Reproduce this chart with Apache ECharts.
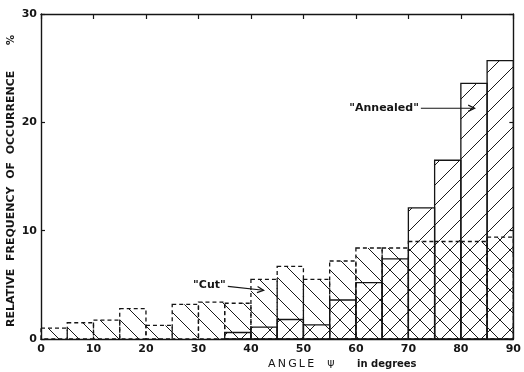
<!DOCTYPE html>
<html><head><meta charset="utf-8">
<script src="https://cdn.jsdelivr.net/npm/echarts@6/dist/echarts.min.js"></script>
<style>html,body{margin:0;padding:0;background:#fff}#c{width:524px;height:372px}</style>
</head><body><div id="c"></div>
<script>
// bin start angles (degrees), each bin 5 degrees wide
const binStart = [0,5,10,15,20,25,30,35,40,45,50,55,60,65,70,75,80,85];
const binWidth = 5;
// relative frequency of occurrence (%)
const cutValues      = [1.0,1.5,1.75,2.8,1.25,3.2,3.4,3.3,5.5,6.7,5.5,7.2,8.4,8.4,9.0,9.0,9.0,9.4];
const annealedValues = [0,0,0,0,0,0,0,0.6,1.1,1.8,1.3,3.6,5.2,7.4,12.1,16.5,23.6,25.7];
const xTicks = [0,10,20,30,40,50,60,70,80,90];
const yTicks = [0,10,20,30];

const INK = '#151515';
const FONT = 'DejaVu Sans';

function hatch(dir) {
  const s = 20, c = document.createElement('canvas');
  c.width = s; c.height = s;
  const g = c.getContext('2d');
  g.strokeStyle = '#1a1a1a'; g.lineWidth = 1;
  g.beginPath();
  if (dir === '/') {
    g.moveTo(-2, s+2); g.lineTo(s+2, -2);
    g.moveTo(-12, 12); g.lineTo(12, -12);
    g.moveTo(s-12, s+12); g.lineTo(s+12, s-12);
  } else {
    g.moveTo(-2, -2); g.lineTo(s+2, s+2);
    g.moveTo(-12, s-12); g.lineTo(12, s+12);
    g.moveTo(s-12, -12); g.lineTo(s+12, 12);
  }
  g.stroke();
  return {image: c, repeat: 'repeat'};
}
const patBack = hatch('\\');
const patFwd = hatch('/');

function render(pattern, dash) {
  return function (params, api) {
    const x0 = api.value(0), x1 = api.value(1), v = api.value(2);
    if (!v) return null;
    const p0 = api.coord([x0, v]);
    const p1 = api.coord([x1, 0]);
    return {
      type: 'rect',
      shape: {x: p0[0], y: p0[1], width: p1[0]-p0[0], height: p1[1]-p0[1]},
      style: {fill: pattern, stroke: INK, lineWidth: 1.3, lineDash: dash}
    };
  };
}
const cutData = binStart.map((s,i)=>[s, s+binWidth, cutValues[i]]);
const annData = binStart.map((s,i)=>[s, s+binWidth, annealedValues[i]]);

const chart = echarts.init(document.getElementById('c'), null, {renderer:'canvas'});
const axisLine = {show:true, onZero:false, lineStyle:{color:INK, width:1.4}};
const labelStyle = {color:INK, fontFamily:FONT, fontSize:11, fontWeight:'bold'};
chart.setOption({
  animation:false,
  backgroundColor:'#fff',
  grid:{left:41, right:3, top:14, bottom:33},
  xAxis:[
    {type:'value', min:xTicks[0], max:xTicks[xTicks.length-1], interval:10, position:'bottom',
     axisLine:axisLine, axisTick:{show:false}, splitLine:{show:false},
     axisLabel:Object.assign({margin:5}, labelStyle)},
    {type:'value', min:xTicks[0], max:xTicks[xTicks.length-1], interval:10, position:'top',
     axisLine:axisLine, axisTick:{show:true, inside:true, length:5, lineStyle:{color:INK,width:1.2}},
     splitLine:{show:false}, axisLabel:{show:false}}
  ],
  yAxis:[
    {type:'value', min:yTicks[0], max:yTicks[yTicks.length-1], interval:10, position:'left',
     axisLine:axisLine, axisTick:{show:true, inside:true, length:4, lineStyle:{color:INK,width:1.2}},
     splitLine:{show:false}, axisLabel:Object.assign({margin:4}, labelStyle)},
    {type:'value', min:yTicks[0], max:yTicks[yTicks.length-1], interval:10, position:'right',
     axisLine:axisLine, axisTick:{show:true, inside:true, length:4, lineStyle:{color:INK,width:1.2}},
     splitLine:{show:false}, axisLabel:{show:false}}
  ],
  series:[
    {type:'custom', name:'Cut', renderItem:render(patBack, [4,3]), data:cutData, encode:{x:[0,1], y:2}, z:2},
    {type:'custom', name:'Annealed', renderItem:render(patFwd, null), data:annData, encode:{x:[0,1], y:2}, z:3}
  ]
});

function px(x, y){ return chart.convertToPixel({gridIndex:0}, [x, y]); }
const aText = px(72, 21.3), aEnd = px(82.6, 21.3);
const cText = px(35.2, 5.0), cStart = px(35.6, 4.85), cEnd = px(42.4, 4.5);
function arrow(a, b) {
  const ang = Math.atan2(b[1]-a[1], b[0]-a[0]), L = 7, w = 0.45;
  return [
    {type:'line', shape:{x1:a[0], y1:a[1], x2:b[0], y2:b[1]}, style:{stroke:INK, lineWidth:1.2}, z:10},
    {type:'polyline', shape:{points:[
      [b[0]-L*Math.cos(ang-w), b[1]-L*Math.sin(ang-w)], b,
      [b[0]-L*Math.cos(ang+w), b[1]-L*Math.sin(ang+w)]]}, style:{stroke:INK, lineWidth:1.3, fill:null}, z:10}
  ];
}
const tStyle = (t, size, extra) => Object.assign({text:t, fill:INK, font:'bold '+size+'px "'+FONT+'"'}, extra||{});
chart.setOption({graphic:[].concat(
  [{type:'text', x:aText[0], y:aText[1], style:tStyle('"Annealed"', 11, {textAlign:'right', textVerticalAlign:'middle'}), z:10}],
  arrow([aText[0]+2, aText[1]], aEnd),
  [{type:'text', x:cText[0], y:cText[1], style:tStyle('"Cut"', 11, {textAlign:'right', textVerticalAlign:'middle'}), z:10}],
  arrow(cStart, cEnd),
  [
    {type:'text', x:268, y:364, style:{text:'A\u2009N\u2009G\u2009L\u2009E', fill:INK, font:'11px "'+FONT+'"', textAlign:'left', textVerticalAlign:'middle'}},
    {type:'text', x:331, y:363, style:{text:'ψ', fill:INK, font:'11px "'+FONT+'"', textAlign:'center', textVerticalAlign:'middle'}},
    {type:'text', x:357, y:364, style:{text:'in degrees', fill:INK, font:'bold 10px "'+FONT+'"', textAlign:'left', textVerticalAlign:'middle'}},
    {type:'text', x:11, y:327, rotation:Math.PI/2, style:{text:'RELATIVE  FREQUENCY  OF  OCCURRENCE', fill:INK, font:'bold 11px "'+FONT+'"', textAlign:'left', textVerticalAlign:'middle'}},
    {type:'text', x:11, y:40, rotation:Math.PI/2, style:{text:'%', fill:INK, font:'bold 10px "'+FONT+'"', textAlign:'center', textVerticalAlign:'middle'}}
  ]
)});
</script></body></html>
